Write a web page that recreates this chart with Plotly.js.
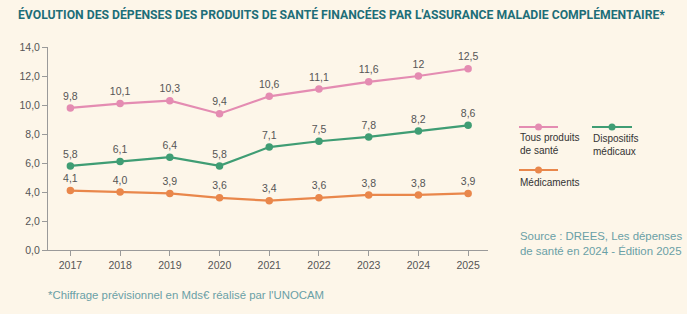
<!DOCTYPE html>
<html>
<head>
<meta charset="utf-8">
<script src="https://cdn.plot.ly/plotly-3.0.1.min.js"></script>
<style>
  html, body { margin: 0; padding: 0; background: #fdf6e9; }
  #chart { width: 687px; height: 314px; }
</style>
</head>
<body>
<div id="chart"></div>
<script>
// Dépenses des produits de santé financées par l'AMC (Mds€)
const years = [2017, 2018, 2019, 2020, 2021, 2022, 2023, 2024, 2025];
const tousProduits = [9.8, 10.1, 10.3, 9.4, 10.6, 11.1, 11.6, 12, 12.5];
const dispositifs = [5.8, 6.1, 6.4, 5.8, 7.1, 7.5, 7.8, 8.2, 8.6];
const medicaments = [4.1, 4.0, 3.9, 3.6, 3.4, 3.6, 3.8, 3.8, 3.9];
const yTicks = [0, 2, 4, 6, 8, 10, 12, 14];
const seriesNames = ['Tous produits<br>de santé', 'Dispositifs<br>médicaux', 'Médicaments'];

const PINK = '#e48cb2';
const GREEN = '#3f9d74';
const ORANGE = '#e9874b';
const TEAL = '#1d6e78';
const SOFT_TEAL = '#6aa0a6';
const GREY = '#555555';

const fr = v => String(v).replace('.', ',');
const fr1 = v => v.toFixed(1).replace('.', ',');

function series(y, color, fmt) {
  return {
    x: years, y: y, type: 'scatter', mode: 'lines+markers+text',
    line: { color: color, width: 2.2 },
    marker: { color: color, size: 7.5 },
    text: y.map(fmt), textposition: 'top center',
    textfont: { family: 'Liberation Sans, Arial, sans-serif', size: 10.5, color: GREY },
    hoverinfo: 'skip', showlegend: false, cliponaxis: false
  };
}

const data = [
  series(tousProduits, PINK, fr),
  series(dispositifs, GREEN, fr1),
  series(medicaments, ORANGE, fr1)
];

// legend drawn in pixel space (converted to paper coordinates)
const W = 687, H = 314;
const mL = 48, mR = 199, mT = 47, mB = 64;
const pw = W - mL - mR, ph = H - mT - mB;
const px = x => (x - mL) / pw;
const py = y => 1 - (y - mT) / ph;

const legendItems = [
  { color: PINK, x0: 519, x1: 558, y: 127, ty: 144, name: seriesNames[0] },
  { color: GREEN, x0: 592, x1: 632, y: 127, ty: 145, name: seriesNames[1] },
  { color: ORANGE, x0: 519, x1: 558, y: 170, ty: 182, name: seriesNames[2] }
];

const shapes = [];
const annotations = [];
legendItems.forEach(it => {
  shapes.push({ type: 'line', xref: 'paper', yref: 'paper',
    x0: px(it.x0), x1: px(it.x1), y0: py(it.y), y1: py(it.y),
    line: { color: it.color, width: 2.2 } });
  const cx = (it.x0 + it.x1) / 2;
  shapes.push({ type: 'circle', xref: 'paper', yref: 'paper',
    x0: px(cx - 3.5), x1: px(cx + 3.5), y0: py(it.y - 3.5), y1: py(it.y + 3.5),
    fillcolor: it.color, line: { width: 0 } });
  annotations.push({ xref: 'paper', yref: 'paper', x: px(it.x0 - 1), y: py(it.ty),
    xanchor: 'left', yanchor: 'middle', align: 'left', showarrow: false,
    text: it.name, font: { family: 'Liberation Sans, Arial, sans-serif', size: 10, color: '#333' } });
});

annotations.push({ xref: 'paper', yref: 'paper', x: px(518), y: py(243),
  xanchor: 'left', yanchor: 'middle', align: 'left', showarrow: false,
  text: 'Source : DREES, Les dépenses<br>de santé en 2024 - Édition 2025',
  font: { family: 'Liberation Sans, Arial, sans-serif', size: 11.4, color: SOFT_TEAL } });

annotations.push({ xref: 'paper', yref: 'paper', x: px(46), y: py(295),
  xanchor: 'left', yanchor: 'middle', showarrow: false,
  text: "*Chiffrage prévisionnel en Mds€ réalisé par l'UNOCAM",
  font: { family: 'Liberation Sans, Arial, sans-serif', size: 11.4, color: SOFT_TEAL } });

const layout = {
  width: W, height: H,
  paper_bgcolor: '#fdf6e9', plot_bgcolor: '#fdf6e9',
  margin: { l: mL, r: mR, t: mT, b: mB, pad: 0 },
  separators: ', ',
  title: {
    text: "<b>ÉVOLUTION DES DÉPENSES DES PRODUITS DE SANTÉ FINANCÉES PAR L'ASSURANCE MALADIE COMPLÉMENTAIRE*</b>",
    x: 18 / W, xanchor: 'left', y: 1 - 15 / H, yanchor: 'middle',
    font: { family: 'Roboto, sans-serif', size: 12.2, color: TEAL }
  },
  xaxis: {
    range: [2016.55, 2025.4], tickvals: years, ticktext: years.map(String),
    showline: true, linecolor: '#9a9a9a', linewidth: 1,
    ticks: 'outside', ticklen: 5, tickcolor: '#9a9a9a',
    showgrid: false, zeroline: false,
    tickfont: { family: 'Liberation Sans, Arial, sans-serif', size: 10.5, color: '#555' }
  },
  yaxis: {
    range: [0, 14], tickvals: yTicks, tickformat: '.1f',
    showline: true, linecolor: '#9a9a9a', linewidth: 1,
    ticks: 'outside', ticklen: 5, tickcolor: '#9a9a9a',
    showgrid: false, zeroline: false,
    tickfont: { family: 'Liberation Sans, Arial, sans-serif', size: 10.5, color: '#555' }
  },
  shapes: shapes,
  annotations: annotations
};

Plotly.newPlot('chart', data, layout, { staticPlot: true, displayModeBar: false });
</script>
</body>
</html>
